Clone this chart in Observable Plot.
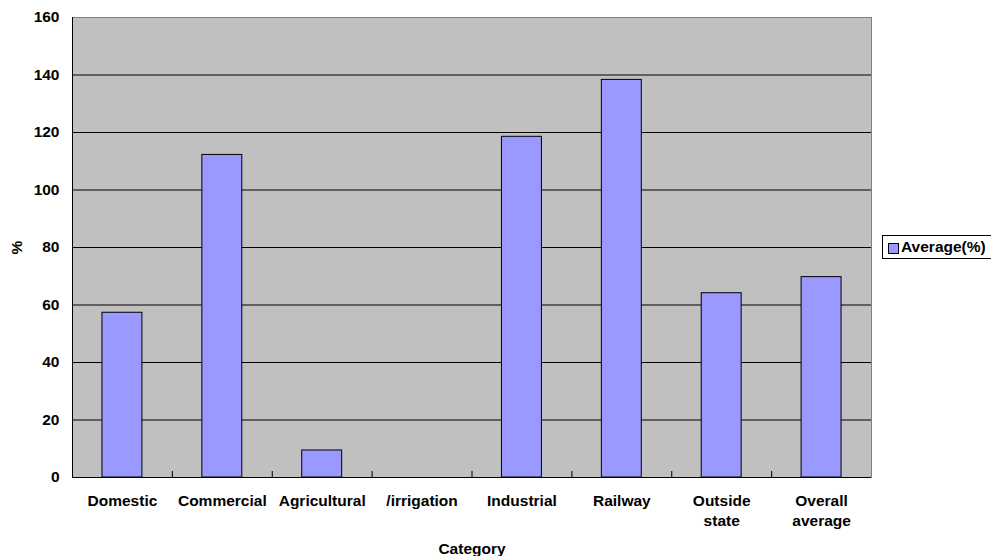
<!DOCTYPE html>
<html>
<head>
<meta charset="utf-8">
<script src="https://cdn.jsdelivr.net/npm/d3@7"></script>
<script src="https://cdn.jsdelivr.net/npm/@observablehq/plot@0.6"></script>
<style>
  html, body { margin: 0; padding: 0; background: #fff; overflow: hidden; }
  #wrap { position: relative; width: 991px; height: 556px; }
  #legend {
    position: absolute; left: 882px; top: 235px; width: 120px; height: 22px;
    border: 1px solid #000; background: #fff; box-sizing: content-box;
    font: bold 15.5px "Liberation Sans", Arial, sans-serif; color: #000;
  }
  #legend .sw {
    position: absolute; left: 5px; top: 7px; width: 9px; height: 9px;
    background: #9999FF; border: 1px solid #000;
  }
  #legend .lb { position: absolute; left: 18px; top: 2px; white-space: nowrap; }
</style>
</head>
<body>
<div id="wrap"></div>
<script>
// Average (%) by consumer category
const categories = ["Domestic", "Commercial", "Agricultural", "/irrigation", "Industrial", "Railway", "Outside\nstate", "Overall\naverage"];
const averages = [57.3, 112.2, 9.4, 0, 118.5, 138.3, 64.1, 69.7];
const yTicks = [0, 20, 40, 60, 80, 100, 120, 140, 160];
const seriesName = "Average(%)";

const data = categories.map((c, i) => ({category: c, value: averages[i]}));

const W = 991, H = 556;
const mL = 72, mR = 120, mT = 17, mB = 79;
const step = (W - mL - mR) / categories.length;
const plotH = H - mT - mB;

const chart = Plot.plot({
  width: W,
  height: H,
  marginLeft: mL,
  marginRight: mR,
  marginTop: mT,
  marginBottom: mB,
  style: {fontFamily: "'Liberation Sans', Arial, sans-serif", fontSize: "15.5px", fontWeight: "bold", color: "#000", background: "#fff"},
  x: {domain: categories, paddingInner: 0.6, paddingOuter: 0.3, round: false},
  y: {domain: [0, 160]},
  marks: [
    Plot.frame({fill: "#C0C0C0", stroke: "#808080"}),
    Plot.ruleY(yTicks.slice(1, -1), {stroke: "#000", strokeWidth: 1}),
    Plot.barY(data, {x: "category", y: "value", fill: "#9999FF", stroke: "#000", strokeWidth: 1}),
    Plot.ruleY([0], {stroke: "#000", strokeWidth: 1.2}),
    Plot.ruleX(categories.slice(0, -1), {dx: step / 2, insetTop: plotH - 6, stroke: "#000"}),
    Plot.frame({anchor: "left", stroke: "#000"}),
    Plot.axisY({ticks: yTicks, tickSize: 0, tickPadding: 13, label: "%", labelAnchor: "center", labelOffset: 62, labelArrow: "none"}),
    Plot.axisX({tickSize: 0, tickPadding: 14, lineHeight: 1.3, label: "Category", labelAnchor: "center", labelOffset: 76, labelArrow: "none"})
  ]
});

const wrap = document.getElementById("wrap");
wrap.appendChild(chart);

// Series key on the right of the plot area
const legend = document.createElement("div");
legend.id = "legend";
legend.innerHTML = `<div class="sw"></div><div class="lb"></div>`;
legend.querySelector(".lb").textContent = seriesName;
wrap.appendChild(legend);
</script>
</body>
</html>
